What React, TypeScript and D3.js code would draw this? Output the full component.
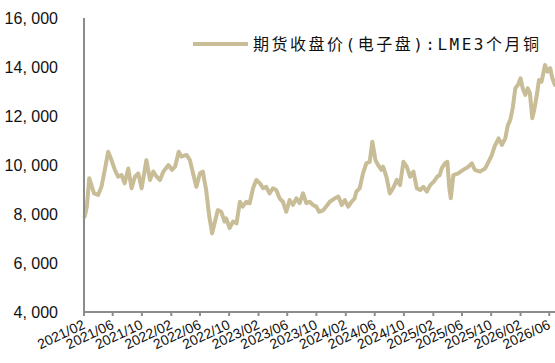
import React from "react";
import * as d3 from "d3";

const dates: string[] = [
  "2021-02-04","2021-02-13","2021-02-23","2021-03-04","2021-03-15","2021-04-01","2021-04-15","2021-04-29",
  "2021-05-13","2021-05-27","2021-06-10","2021-06-24","2021-07-08","2021-07-21","2021-08-05","2021-08-19",
  "2021-09-02","2021-09-16","2021-09-30","2021-10-20","2021-11-04","2021-11-18","2021-12-02","2021-12-16",
  "2021-12-30","2022-01-20","2022-02-04","2022-02-17","2022-03-04","2022-03-15","2022-04-06","2022-04-20",
  "2022-05-03","2022-05-17","2022-06-01","2022-06-13","2022-06-27","2022-07-10","2022-07-22","2022-08-01",
  "2022-08-15","2022-08-29","2022-09-12","2022-09-19","2022-10-03","2022-10-17","2022-11-01","2022-11-15",
  "2022-11-26","2022-12-12","2022-12-26","2023-01-09","2023-01-23","2023-02-07","2023-02-20","2023-03-05",
  "2023-03-19","2023-04-02","2023-04-16","2023-04-30","2023-05-14","2023-05-28","2023-06-11","2023-06-25",
  "2023-07-09","2023-07-23","2023-08-06","2023-08-20","2023-09-03","2023-09-17","2023-10-01","2023-10-12",
  "2023-10-29","2023-11-05","2023-11-26","2023-12-17","2024-01-01","2024-01-15","2024-01-28","2024-02-11",
  "2024-02-25","2024-03-09","2024-03-16","2024-03-30","2024-04-13","2024-04-27","2024-05-11","2024-05-22",
  "2024-06-04","2024-06-15","2024-06-29","2024-07-06","2024-07-20","2024-08-03","2024-08-17","2024-09-01",
  "2024-09-15","2024-09-29","2024-10-13","2024-10-27","2024-11-10","2024-11-24","2024-12-08","2024-12-22",
  "2025-01-05","2025-01-19","2025-02-03","2025-02-17","2025-02-28","2025-03-08","2025-03-22","2025-04-01",
  "2025-04-09","2025-04-15","2025-04-26","2025-05-16","2025-06-06","2025-06-28","2025-07-12","2025-07-25",
  "2025-08-15","2025-09-06","2025-09-20","2025-10-04","2025-10-15","2025-11-01","2025-11-15","2025-11-29",
  "2025-12-10","2025-12-20","2025-12-30","2026-01-10","2026-01-21","2026-02-01","2026-02-10","2026-02-21",
  "2026-03-03","2026-03-12","2026-03-22","2026-03-30","2026-04-10","2026-04-19","2026-04-30","2026-05-14",
  "2026-05-25","2026-06-05","2026-06-14","2026-06-24"
];

const prices: number[] = [
  7890,8300,9460,9180,8840,8780,9110,9800,
  10540,10200,9800,9520,9590,9250,9860,9050,
  9520,9660,9050,10200,9390,9730,9520,9390,
  9730,10000,9800,9930,10540,10340,10410,10200,
  9660,9110,9660,9730,8980,7890,7210,7620,
  8160,8090,7690,7820,7420,7690,7620,8500,
  8300,8500,8440,9050,9390,9250,9050,9110,
  8840,9050,8980,8640,8500,8090,8570,8370,
  8640,8440,8840,8440,8500,8370,8300,8090,
  8150,8230,8500,8640,8710,8370,8570,8300,
  8500,8640,8910,9050,9660,10070,10130,10950,
  10200,10000,9800,9930,9520,8840,9050,9390,
  9180,10130,9930,9520,9730,9050,8980,9110,
  8910,9180,9320,9520,9590,9860,10070,10130,
  9050,8640,9590,9660,9800,9930,10070,9800,
  9730,9860,10130,10410,10750,11090,10820,11090,
  11630,11840,12310,13130,13270,13540,13130,12860,
  13130,12930,11910,12240,12860,13470,13400,14080,
  13810,13950,13540,13270
];

const yTicks: number[] = [4000, 6000, 8000, 10000, 12000, 14000, 16000];
const xTickLabels: string[] = [
  "2021/02","2021/06","2021/10","2022/02","2022/06","2022/10","2023/02","2023/06","2023/10",
  "2024/02","2024/06","2024/10","2025/02","2025/06","2025/10","2026/02","2026/06"
];
const seriesName = "期货收盘价(电子盘):LME3个月铜";

const W = 555, H = 363;
const left = 84, right = 555, top = 18, bottom = 312;
const lineColor = "#c8bd97";
const axisColor = "#8c8c8c";

export default function App() {
  const parse = d3.timeParse("%Y-%m-%d");
  const parseTick = d3.timeParse("%Y/%m");
  const data = dates.map((d, i) => ({ date: parse(d) as Date, value: prices[i] }));
  const x = d3.scaleTime()
    .domain([parseTick("2021/02") as Date, parse("2026-06-25") as Date])
    .range([left, right]);
  const y = d3.scaleLinear().domain([4000, 16000]).range([bottom, top]);
  const line = d3.line<{ date: Date; value: number }>()
    .x(d => x(d.date))
    .y(d => y(d.value))
    .curve(d3.curveLinear);
  const fmt = (v: number) => d3.format(",")(v).replace(",", ", ");

  return (
    <svg width={W} height={H} style={{ position: "absolute", left: 0, top: 0, background: "#fff" }}>
      {yTicks.map(t => (
        <text key={t} x={58} y={y(t)} dy="0.36em" textAnchor="end"
          fontFamily="Liberation Sans, Arial, sans-serif" fontSize={16} fill="#111">
          {fmt(t)}
        </text>
      ))}
      <path d={line(data) || ""} fill="none" stroke={lineColor} strokeWidth={4}
        strokeLinejoin="round" strokeLinecap="round" />
      <line x1={left} x2={left} y1={top} y2={bottom} stroke={axisColor} strokeWidth={2} />
      <line x1={left} x2={right} y1={bottom} y2={bottom} stroke={axisColor} strokeWidth={2} />
      {xTickLabels.map(lbl => {
        const xp = x(parseTick(lbl) as Date);
        return (
          <g key={lbl}>
            <line x1={xp} x2={xp} y1={bottom} y2={bottom + 4} stroke={axisColor} strokeWidth={2} />
            <text transform={`translate(${xp + 2},${bottom + 16}) rotate(-25)`} textAnchor="end"
              fontFamily="Liberation Sans, Arial, sans-serif" fontSize={14} fill="#111">
              {lbl}
            </text>
          </g>
        );
      })}
      <line x1={193} x2={248} y1={44} y2={44} stroke={lineColor} strokeWidth={4} />
      <text x={253} y={44} dy="0.36em" fontFamily="DejaVu Sans Mono, Noto Sans CJK SC, monospace"
        fontSize={16} letterSpacing={2.5} fill="#111">
        {seriesName}
      </text>
    </svg>
  );
}
